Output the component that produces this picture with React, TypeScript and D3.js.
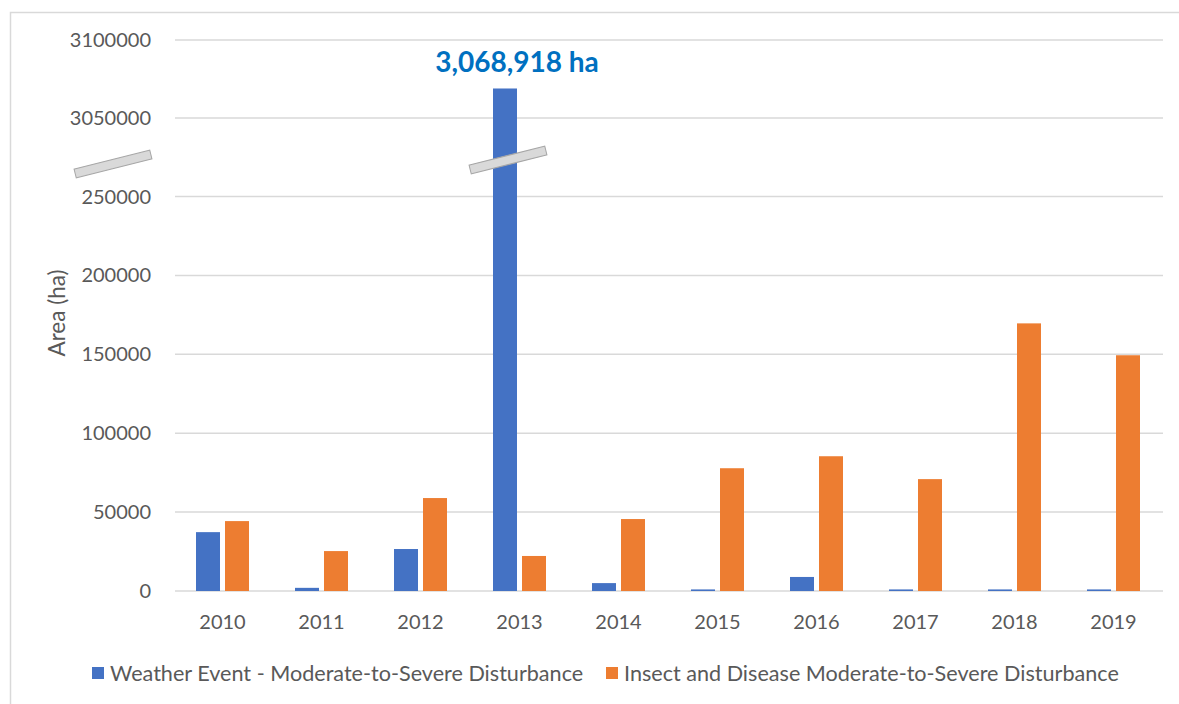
import React from "react";
import * as d3 from "d3";

const years = ["2010", "2011", "2012", "2013", "2014", "2015", "2016", "2017", "2018", "2019"];
const weatherValues = [37300, 2000, 26600, 3068918, 5000, 1000, 8900, 1000, 1000, 1000];
const insectValues = [44300, 25300, 58900, 22200, 45600, 77800, 85400, 70900, 169600, 149400];
const tickValues = [0, 50000, 100000, 150000, 200000, 250000, 3050000, 3100000];
const seriesNames = [
  "Weather Event - Moderate-to-Severe Disturbance",
  "Insect and Disease Moderate-to-Severe Disturbance",
];
const seriesColors = ["#4472C4", "#ED7D31"];
const peakLabel = "3,068,918 ha";
const yTitle = "Area (ha)";

const W = 1179;
const H = 704;
const FONT = "Lato, 'Open Sans', sans-serif";
const TEXT = "#595959";

export default function App() {
  const x = d3.scaleBand<string>().domain(years).range([173, 1163]);
  // broken axis: lower segment 0..250000, upper segment 3,050,000..3,100,000
  const y = d3
    .scaleLinear()
    .domain([0, 250000, 3050000, 3100000])
    .range([591, 196.5, 118, 40]);

  const barW = 24;
  const gap = 5;
  const series = [weatherValues, insectValues];
  const peakIdx = weatherValues.indexOf(d3.max(weatherValues) as number);
  const peakCx = (x(years[peakIdx]) as number) + x.bandwidth() / 2 - gap / 2 - barW / 2;

  const breakMark = (cx: number, cy: number, key: string) => (
    <rect
      key={key}
      x={cx - 39}
      y={cy - 4.5}
      width={78}
      height={9}
      fill="#d9d9d9"
      stroke="#a6a6a6"
      strokeWidth={1}
      transform={`rotate(-14 ${cx} ${cy})`}
    />
  );

  return (
    <div style={{ position: "absolute", left: 0, top: 0 }}>
      <svg width={W} height={H} style={{ display: "block", background: "#fff" }}>
        <rect x={10.5} y={12.5} width={W + 20} height={H + 20} fill="none" stroke="#d9d9d9" strokeWidth={1.5} />
        {tickValues.map((t) => (
          <g key={t}>
            <line x1={175} x2={1163} y1={y(t)} y2={y(t)} stroke="#d9d9d9" strokeWidth={1.5} />
            <text
              x={151}
              y={y(t)}
              dy="0.35em"
              textAnchor="end"
              fontFamily={FONT}
              fontSize={20}
              fill={TEXT}
            >
              {t}
            </text>
          </g>
        ))}
        {years.map((yr, i) => {
          const c = (x(yr) as number) + x.bandwidth() / 2;
          return (
            <g key={yr}>
              {series.map((vals, s) => {
                const bx = s === 0 ? c - gap / 2 - barW : c + gap / 2;
                const top = y(vals[i]);
                return (
                  <rect
                    key={s}
                    x={bx}
                    y={top}
                    width={barW}
                    height={y(0) - top}
                    fill={seriesColors[s]}
                  />
                );
              })}
              <text
                x={c}
                y={622}
                dy="0.35em"
                textAnchor="middle"
                fontFamily={FONT}
                fontSize={20}
                fill={TEXT}
              >
                {yr}
              </text>
            </g>
          );
        })}
        {breakMark(113, 164, "b1")}
        {breakMark(508, 160, "b2")}
        <text
          x={peakCx + 12}
          y={62}
          dy="0.35em"
          textAnchor="middle"
          fontFamily={FONT}
          fontWeight={700}
          fontSize={28}
          fill="#0070C0"
        >
          {peakLabel}
        </text>
        <text
          transform="translate(57,313) rotate(-90)"
          textAnchor="middle"
          dy="0.35em"
          fontFamily={FONT}
          fontSize={22.5}
          fill={TEXT}
        >
          {yTitle}
        </text>
        {seriesNames.map((name, s) => {
          const lx = s === 0 ? 92 : 606;
          return (
            <g key={name}>
              <rect x={lx} y={667} width={12} height={12} fill={seriesColors[s]} />
              <text
                x={lx + 18}
                y={673}
                dy="0.35em"
                fontFamily={FONT}
                fontSize={21.6}
                fill={TEXT}
              >
                {name}
              </text>
            </g>
          );
        })}
      </svg>
    </div>
  );
}
